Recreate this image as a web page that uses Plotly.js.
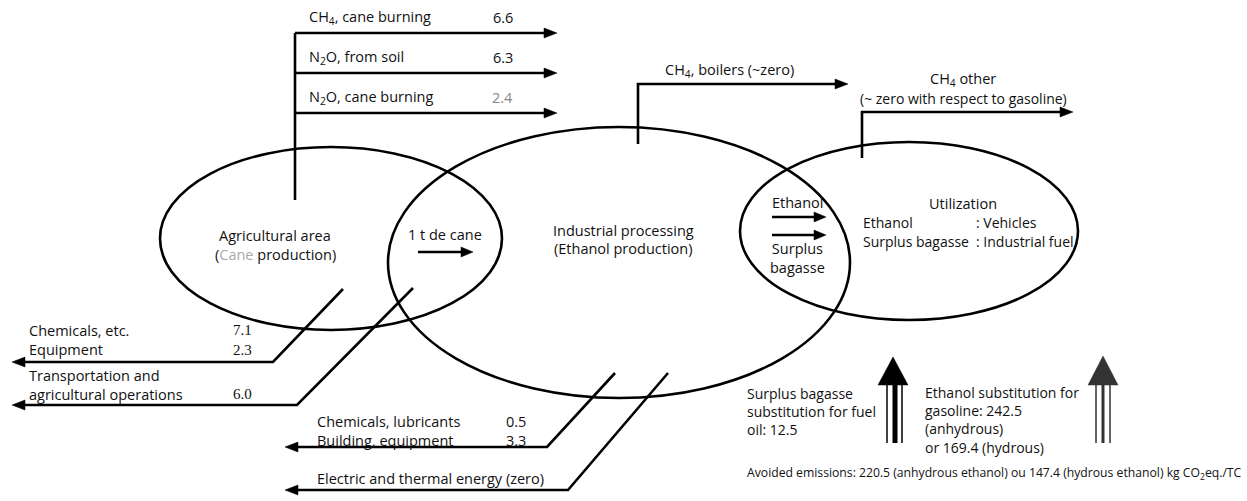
<!DOCTYPE html>
<html>
<head>
<meta charset="utf-8">
<script src="https://cdn.plot.ly/plotly-3.0.1.min.js"></script>
<style>html,body{margin:0;padding:0;background:#fff;}#chart{width:1247px;height:501px;}</style>
</head>
<body>
<div id="chart"></div>
<script>
// ---------- data ----------
const stageNames = ["Agricultural area", "Industrial processing", "Utilization"];
const stageSubtitles = ["(<span style=\"color:#aaaaaa\">Cane</span> production)", "(Ethanol production)", ""];
const fieldEmissionLabels = ["CH<sub>4</sub>, cane burning", "N<sub>2</sub>O, from soil", "N<sub>2</sub>O, cane burning"];
const fieldEmissionValues = [6.6, 6.3, 2.4];
const agriInputLabels = ["Chemicals, etc.", "Equipment"];
const agriInputValues = [7.1, 2.3];
const transportLabel = ["Transportation and", "agricultural operations"];
const transportValue = [6.0];
const industryInputLabels = ["Chemicals, lubricants", "Building, equipment"];
const industryInputValues = [0.5, 3.3];
const energyLabel = ["Electric and thermal energy (zero)"];
const bagasseSubstitution = [12.5];
const ethanolSubstitution = [242.5, 169.4];   // anhydrous, hydrous
const avoidedEmissions = [220.5, 147.4];      // anhydrous, hydrous

// ---------- geometry (pixel layout of the diagram) ----------
const G = {
  ell: [[160,147,502,330],[388,127,850,398],[740,142,1078,320]],
  topX: 295, topBottom: 200, topYs: [33,73,113], topTip: 557,
  boilX: 638, boilY: 84, boilBottom: 144, boilTip: 848,
  otherX: 862, otherY: 112, otherBottom: 158, otherTip: 1073,
  leftTip: 12, midTip: 285
};

const fontMain = "'Open Sans', sans-serif";
const fontSerif = "'Liberation Serif', serif";
const FS = 14.5;
const shapes = [];
const ann = [];

function line(path, w, col) {
  shapes.push({type:'path', xref:'x', yref:'y', path: path, line:{width: w||2.6, color: col||'#000'}});
}
function head(x, y, dir, len, hw, col) {
  len = len||12; hw = hw||4.5; col = col||'#000';
  let p;
  if (dir === 'r') p = `M${x},${y} L${x-len},${y-hw} L${x-len},${y+hw} Z`;
  else if (dir === 'l') p = `M${x},${y} L${x+len},${y-hw} L${x+len},${y+hw} Z`;
  else p = `M${x},${y} L${x-hw},${y+len} L${x+hw},${y+len} Z`;
  shapes.push({type:'path', xref:'x', yref:'y', path:p, fillcolor:col, line:{width:0.5,color:col}});
}
function text(t, x, y, opt) {
  opt = opt || {};
  ann.push({x:x, y:y, xref:'x', yref:'y', text:t, showarrow:false,
    xanchor: opt.xa||'left', yanchor:'middle', align: opt.align||'left',
    font:{family: opt.family||fontMain, size: opt.size||FS, color: opt.color||'#111'}});
}

// ellipses
G.ell.forEach(e => shapes.push({type:'circle', xref:'x', yref:'y', x0:e[0], y0:e[1], x1:e[2], y1:e[3], line:{width:2.6,color:'#000'}}));

// field emissions (top)
line(`M${G.topX},${G.topBottom} L${G.topX},${G.topYs[0]}`);
G.topYs.forEach((y, i) => {
  line(`M${G.topX},${y} L${G.topTip-10},${y}`);
  head(G.topTip, y, 'r', 13, 5);
  text(fieldEmissionLabels[i], 307, y-16);
  text(fieldEmissionValues[i].toFixed(1), 515, y-16, {xa:'right', color: i===2 ? '#888' : '#111'});
});

// boilers
line(`M${G.boilX},${G.boilBottom} L${G.boilX},${G.boilY} L${G.boilTip-10},${G.boilY}`);
head(G.boilTip, G.boilY, 'r', 13, 5);
text("CH<sub>4</sub>, boilers (~zero)", 663, 70);

// other
line(`M${G.otherX},${G.otherBottom} L${G.otherX},${G.otherY} L${G.otherTip-10},${G.otherY}`);
head(G.otherTip, G.otherY, 'r', 13, 5);
text("CH<sub>4</sub> other", 963, 79, {xa:'center'});
text("(~ zero with respect to gasoline)", 963, 98, {xa:'center', size: 14});

// stage labels
text(stageNames[0], 275, 235, {xa:'center'});
text(stageSubtitles[0], 275, 254, {xa:'center'});
text(stageNames[1], 623, 230, {xa:'center'});
text(stageSubtitles[1], 623, 248, {xa:'center'});
text(stageNames[2], 963, 203, {xa:'center'});
text("Ethanol", 861, 222, {size: 14});
text("Surplus bagasse", 861, 241, {size: 14});
text(": Vehicles", 974, 222, {size: 14});
text(": Industrial fuel", 974, 241, {size: 14});

// 1 t de cane
text("1 t de cane", 445, 234, {xa:'center'});
line(`M418,252 L462,252`, 2.6);
head(473, 252, 'r', 12, 5);

// ethanol & bagasse transfer
text("Ethanol", 797, 202, {xa:'center'});
line(`M772,217 L815,217`, 2.6); head(826, 217, 'r', 12, 5);
line(`M772,235 L815,235`, 2.6); head(826, 235, 'r', 12, 5);
text("Surplus<br>bagasse", 797, 258, {xa:'center', align:'center'});

// agricultural inputs
line(`M343,289 L273,362 L${G.leftTip+10},362`);
head(G.leftTip, 362, 'l', 13, 5);
text(agriInputLabels.join("<br>"), 27, 340);
text(agriInputValues.map(v => v.toFixed(1)).join("<br>"), 254, 340, {xa:'right', align:'right', family: fontSerif, size: 15});
line(`M413,288 L297,405 L${G.leftTip+10},405`);
head(G.leftTip, 405, 'l', 13, 5);
text(transportLabel.join("<br>"), 27, 385);
text(transportValue[0].toFixed(1), 254, 394, {xa:'right', family: fontSerif, size: 15});

// industrial inputs
line(`M615,373 L547,447 L${G.midTip+10},447`);
head(G.midTip, 447, 'l', 13, 5);
text(industryInputLabels.join("<br>"), 315, 431);
text(industryInputValues.map(v => v.toFixed(1)).join("<br>"), 528, 431, {xa:'right', align:'right'});
line(`M668,373 L568,490 L${G.midTip+10},490`);
head(G.midTip, 490, 'l', 13, 5);
text(energyLabel[0], 315, 478);

// substitution arrows
head(893, 357, 'u', 28, 15, '#000');
line(`M887,385 L887,443`, 1.5);
line(`M895,385 L895,443`, 5);
line(`M902,385 L902,443`, 1.5);
head(1103, 356, 'u', 29, 15, '#333');
line(`M1096,385 L1096,443`, 1.5, '#333');
line(`M1103,385 L1103,443`, 3, '#333');
line(`M1110,385 L1110,443`, 1.5, '#333');

text("Surplus bagasse<br>substitution for fuel<br>oil: " + bagasseSubstitution[0].toFixed(1), 745, 411, {size: 14});
text("Ethanol substitution for<br>gasoline: " + ethanolSubstitution[0].toFixed(1) + "<br>(anhydrous)<br>or " +
     ethanolSubstitution[1].toFixed(1) + " (hydrous)", 923, 420, {size: 14});

text("Avoided emissions: " + avoidedEmissions[0].toFixed(1) + " (anhydrous ethanol) ou " +
     avoidedEmissions[1].toFixed(1) + " (hydrous ethanol) kg CO<sub>2</sub>eq./TC", 1244, 473, {xa:'right', size: 12.2});

const layout = {
  width: 1247, height: 501,
  margin: {l:0, r:0, t:0, b:0},
  paper_bgcolor: '#fff', plot_bgcolor: '#fff',
  xaxis: {range: [0, 1247], visible: false, fixedrange: true},
  yaxis: {range: [501, 0], visible: false, fixedrange: true},
  showlegend: false,
  shapes: shapes,
  annotations: ann
};
Plotly.newPlot('chart', [], layout, {displayModeBar: false, staticPlot: true});
</script>
</body>
</html>
